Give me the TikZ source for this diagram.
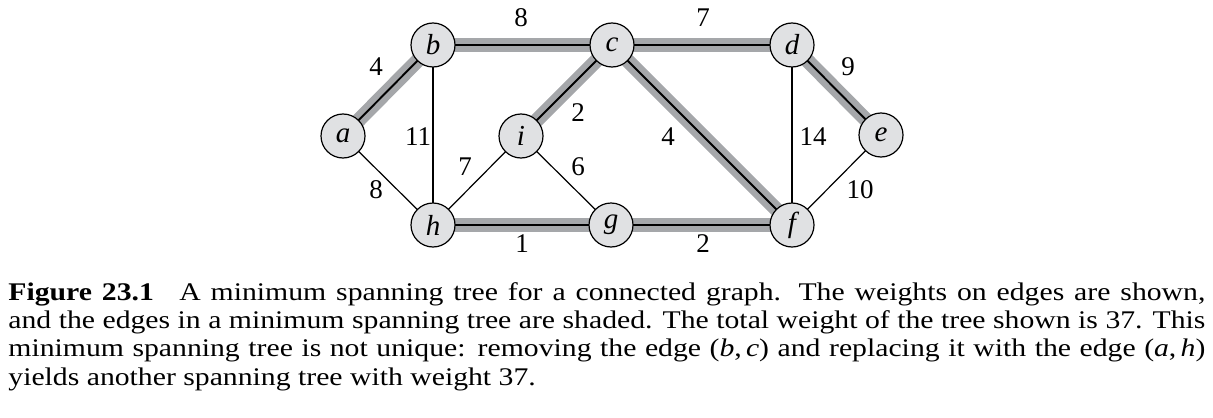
\documentclass[tikz,border=0pt]{standalone}
\usepackage{fontspec}
\setmainfont{Liberation Serif}
\newfontfamily\capfont[FakeStretch=1.17]{Liberation Serif}
\usetikzlibrary{backgrounds}
\definecolor{nodegray}{RGB}{224,225,227}
\definecolor{bandgray}{RGB}{165,167,170}
\tikzset{
  vtx/.style={circle, draw=black, fill=nodegray, line width=0.6pt, minimum size=22pt, inner sep=0pt, font=\fontsize{14.5}{16}\selectfont\itshape},
  mstband/.style={line width=7.2pt, draw=bandgray},
  mstcore/.style={line width=0.95pt, draw=black},
  plain/.style={line width=0.6pt, draw=black},
  wlabel/.style={inner sep=0pt, font=\fontsize{13.5}{16}\selectfont}
}
\begin{document}
\begin{tikzpicture}[x=0.5pt, y=-0.5pt]
\useasboundingbox (0,0) rectangle (1213,417);
\node[vtx] (a) at (343,136) {a};
\node[vtx] (b) at (433,45) {b};
\node[vtx] (c) at (612,45) {c};
\node[vtx] (d) at (792,45) {d};
\node[vtx] (e) at (881,135) {e};
\node[vtx] (i) at (521,136) {i};
\node[vtx] (h) at (433,225) {h};
\node[vtx] (g) at (611,225) {g};
\node[vtx] (f) at (792,225) {f};
\begin{scope}[on background layer]
  \foreach \u/\v in {a/b, b/c, c/d, d/e, c/i, c/f, h/g, g/f} {
    \draw[mstband] (\u.center) -- (\v.center);
    \draw[mstcore] (\u.center) -- (\v.center);
  }
  \foreach \u/\v in {a/h, b/h, h/i, i/g, d/f, e/f} {
    \draw[plain] (\u.center) -- (\v.center);
  }
\end{scope}
\node[wlabel] (lab) at (376,67) {4};
\node[wlabel] (lbc) at (521,18) {8};
\node[wlabel] (lcd) at (703,18) {7};
\node[wlabel] (lde) at (848,67) {9};
\node[wlabel] (lbh) at (418,137) {11};
\node[wlabel] (lci) at (578,113) {2};
\node[wlabel] (lcf) at (668,137) {4};
\node[wlabel] (ldf) at (813,137) {14};
\node[wlabel] (lhi) at (465,167) {7};
\node[wlabel] (lig) at (578,167) {6};
\node[wlabel] (lah) at (376,190) {8};
\node[wlabel] (lef) at (860,190) {10};
\node[wlabel] (lhg) at (522,244) {1};
\node[wlabel] (lgf) at (703,244) {2};
\node[anchor=base west, inner sep=0pt, text width=598.5pt, align=justify,
      font=\capfont\fontsize{12.7}{14.2}\selectfont] (cap) at (8,300)
 {\textbf{Figure 23.1}\quad A minimum spanning tree for a connected graph. The weights on edges are shown,\linebreak
  and the edges in a minimum spanning tree are shaded. The total weight of the tree shown is 37. This\linebreak
  minimum spanning tree is not unique: removing the edge (\textit{b},\,\textit{c}) and replacing it with the edge (\textit{a},\,\textit{h})\linebreak
  yields another spanning tree with weight 37.};
\end{tikzpicture}
\end{document}
